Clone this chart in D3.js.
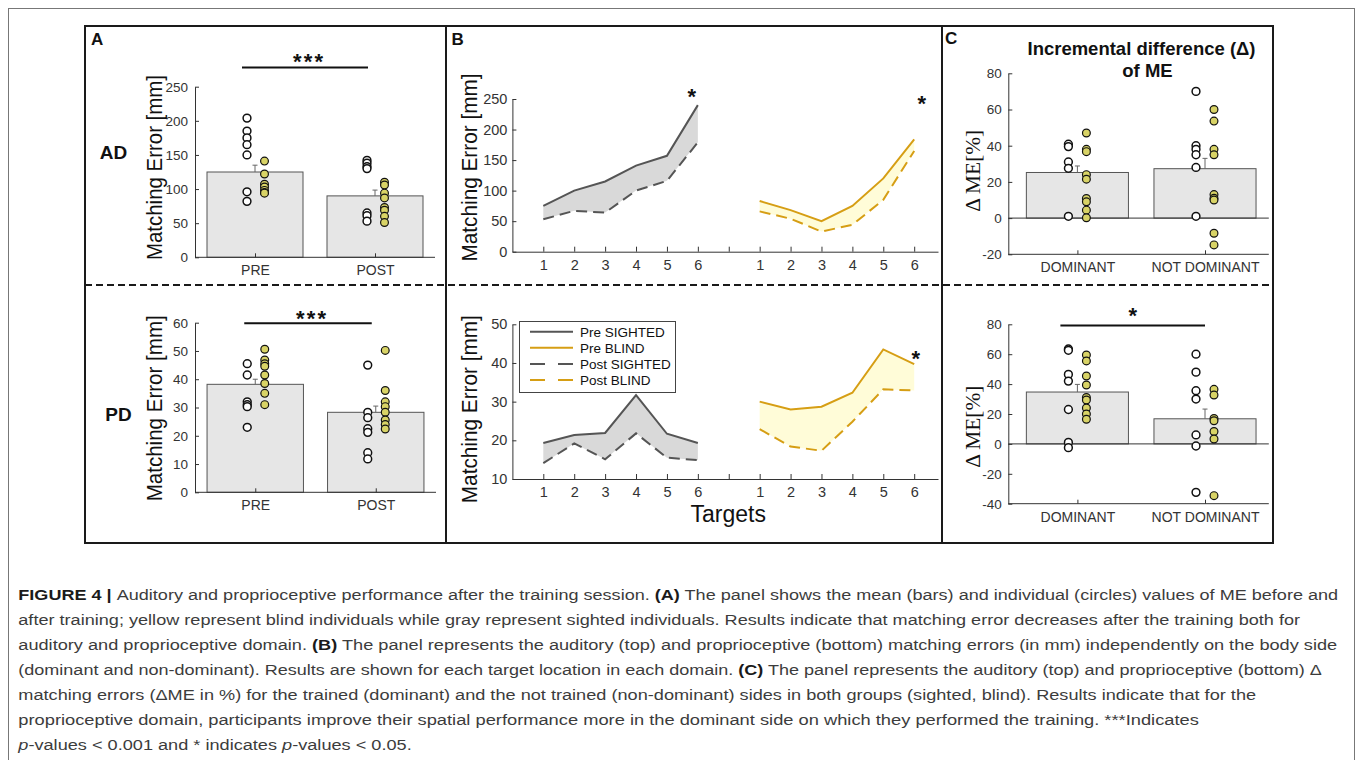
<!DOCTYPE html>
<html lang="en">
<head>
<meta charset="UTF-8">
<title>Figure 4 - Auditory and proprioceptive performance</title>
<style>
  body { margin: 0; background: #fff; }
  svg { display: block; font-family: "Liberation Sans", Arial, sans-serif; }
</style>
</head>
<body>
<svg id="fig"></svg>
<script src="https://d3js.org/d3.v7.min.js"></script>
<script>
// ---------- data ----------
// Panel A: mean bars + individual values (sighted = white, blind = yellow)
const barCats = ['PRE', 'POST'];
const adMeans = [125, 90];
const adErr = [10, 8.5];
const adSighted = [[204, 185, 175, 165, 150, 96, 82], [142, 138, 133, 130, 65, 61, 53]];
const adBlind = [[141, 122, 107, 103, 98, 95, 94], [110, 106, 94, 87, 73, 69, 60, 51]];
const adTicks = [0, 50, 100, 150, 200, 250];

const pdMeans = [38.2, 28.3];
const pdErr = [1.8, 2.2];
const pdSighted = [[45.5, 41.5, 32, 31, 30.3, 23], [45, 28.3, 26.4, 22.5, 21.2, 14, 11.8]];
const pdBlind = [[50.6, 46.8, 45.5, 44.6, 41.5, 38.5, 35, 31], [50.2, 36, 32, 30.3, 28.3, 25.6, 24, 22.4]];
const pdTicks = [0, 10, 20, 30, 40, 50, 60];

// Panel B: matching error per target
const targets = [1, 2, 3, 4, 5, 6];
const targetTickLabels = ['1', '2', '3', '4', '5', '6', '', '1', '2', '3', '4', '5', '6'];
const adPreSighted = [75, 100, 115, 141, 157, 240];
const adPostSighted = [53, 67, 64, 100, 116, 179];
const adPreBlind = [83, 68, 50, 75, 120, 184];
const adPostBlind = [66, 54, 33, 44, 85, 165];
const pdPreSighted = [19.3, 21.4, 21.9, 31.7, 21.7, 19.3];
const pdPostSighted = [14.1, 19.2, 15.1, 21.8, 15.5, 14.9];
const pdPreBlind = [30, 28, 28.7, 32.3, 43.5, 39.7];
const pdPostBlind = [22.9, 18.4, 17.3, 24.8, 33.2, 32.9];
const bTopTicks = [0, 50, 100, 150, 200, 250];
const bBotTicks = [10, 20, 30, 40, 50];
const legendLabels = ['Pre SIGHTED', 'Pre BLIND', 'Post SIGHTED', 'Post BLIND'];

// Panel C: incremental difference of ME (%)
const sideCats = ['DOMINANT', 'NOT DOMINANT'];
const dAdMeans = [25.2, 27.3];
const dAdErr = [3.6, 5.7];
const dAdSighted = [[40.8, 39.5, 31, 27.5, 1], [70, 40, 38, 35, 28, 1]];
const dAdBlind = [[47, 38, 36.7, 24, 21.5, 10.8, 9, 4.4, 0.2], [60, 53.6, 38, 35, 13, 11, 10, -8.4, -14.8]];
const dAdTicks = [-20, 0, 20, 40, 60, 80];
const dPdMeans = [34.7, 16.8];
const dPdErr = [5.1, 6.5];
const dPdSighted = [[63.5, 62.6, 46.5, 42, 23, 1, -2.5], [60, 48, 35.6, 30, 6, -1.4, -32.4]];
const dPdBlind = [[59.5, 55.5, 45.4, 39.4, 31, 29.4, 24, 20, 16.5], [36.5, 32.7, 17, 15.5, 8.3, 3.3, -34.6]];
const dPdTicks = [-40, -20, 0, 20, 40, 60, 80];

// caption, one entry per printed line: [text, style]
const caption = [
  [['FIGURE 4 | ', 'b'], ['Auditory and proprioceptive performance after the training session. '], ['(A)', 'b'], [' The panel shows the mean (bars) and individual (circles) values of ME before and']],
  [['after training; yellow represent blind individuals while gray represent sighted individuals. Results indicate that matching error decreases after the training both for']],
  [['auditory and proprioceptive domain. '], ['(B)', 'b'], [' The panel represents the auditory (top) and proprioceptive (bottom) matching errors (in mm) independently on the body side']],
  [['(dominant and non-dominant). Results are shown for each target location in each domain. '], ['(C)', 'b'], [' The panel represents the auditory (top) and proprioceptive (bottom) \u0394']],
  [['matching errors (\u0394ME in %) for the trained (dominant) and the not trained (non-dominant) sides in both groups (sighted, blind). Results indicate that for the']],
  [['proprioceptive domain, participants improve their spatial performance more in the dominant side on which they performed the training. ***Indicates']],
  [['p', 'i'], ['-values < 0.001 and * indicates '], ['p', 'i'], ['-values < 0.05.']]
];
// printed width of each full line (the last line uses the common squeeze)
const captionWidths = [1320, 1283, 1320, 1305, 1238, 1182, null];

// ---------- styles ----------
const W = 1357, H = 760;
const AX = '#333';
const BAR_FILL = '#e6e6e6', BAR_EDGE = '#555';
const YEL = '#d8d366';
const GRAY_LINE = '#555', GOLD = '#d69e14';
const GRAY_AREA = '#d9d9d9', YEL_AREA = '#fffcd8';

const svg = d3.select('#fig').attr('width', W).attr('height', H);
svg.append('rect').attr('width', W).attr('height', H).attr('fill', '#fff');

// outer page border and figure frame
svg.append('rect').attr('x', 8.5).attr('y', 8.5).attr('width', 1346).attr('height', 800)
  .attr('fill', 'none').attr('stroke', '#777');
const frame = svg.append('g').attr('stroke', '#1a1a1a').attr('stroke-width', 2).attr('fill', 'none');
frame.append('rect').attr('x', 85).attr('y', 26).attr('width', 1188).attr('height', 517);
frame.append('line').attr('x1', 446).attr('x2', 446).attr('y1', 26).attr('y2', 543);
frame.append('line').attr('x1', 942).attr('x2', 942).attr('y1', 26).attr('y2', 543);
frame.append('line').attr('x1', 85).attr('x2', 1273).attr('y1', 285).attr('y2', 285)
  .attr('stroke-dasharray', '7,4');

function txt(x, y, s, size, opts = {}) {
  return svg.append('text').attr('x', x).attr('y', y).text(s)
    .attr('font-size', size)
    .attr('font-weight', opts.bold ? 'bold' : null)
    .attr('text-anchor', opts.anchor || 'start')
    .attr('fill', opts.fill || '#111');
}

function yAxis(y, x0, ticks, pad, fs) {
  const ax = d3.axisLeft(y).tickValues(ticks).tickFormat(d => String(d))
    .tickSizeInner(-4).tickSizeOuter(0).tickPadding(pad);
  const a = svg.append('g').attr('transform', `translate(${x0},0)`).call(ax)
    .attr('font-size', null).attr('font-family', null);
  a.select('.domain').attr('stroke', AX);
  a.selectAll('.tick line').attr('stroke', AX);
  a.selectAll('text').attr('fill', '#333').style('font-size', fs + 'px');
}

function yLabel(s, bx, cy, fs, len, family) {
  svg.append('text').attr('transform', `translate(${bx},${cy}) rotate(-90)`)
    .attr('text-anchor', 'middle').attr('font-size', fs)
    .attr('font-family', family || null)
    .attr('textLength', len).attr('lengthAdjust', 'spacingAndGlyphs')
    .attr('fill', '#111').text(s);
}

function stars(cx, cy, s, len) {
  const fs = 22;
  svg.append('text').attr('x', cx).attr('y', cy + fs * 0.58)
    .attr('text-anchor', 'middle').attr('font-size', fs).attr('font-weight', 'bold')
    .attr('textLength', len).attr('lengthAdjust', 'spacing')
    .attr('fill', '#111').text(s);
}

// ---------- bar panels (A and C) ----------
function barPanel(p) {
  const g = svg.append('g');
  const x = d3.scalePoint().domain(p.cats).range(p.xr).padding(0.5);
  const bw = x.step() * 0.8;
  const y = d3.scaleLinear().domain(p.yd).range(p.yr);
  const base = y(Math.max(p.yd[0], 0));
  const rows = p.cats.map((c, i) => ({ c, m: p.means[i], e: p.errs[i], s: p.sighted[i], b: p.blind[i] }));

  g.selectAll('rect.bar').data(rows).enter().append('rect').attr('class', 'bar')
    .attr('x', d => x(d.c) - bw / 2).attr('width', bw)
    .attr('y', d => Math.min(y(d.m), base)).attr('height', d => Math.abs(y(d.m) - base))
    .attr('fill', BAR_FILL).attr('stroke', BAR_EDGE);

  const eb = g.selectAll('g.err').data(rows).enter().append('g').attr('stroke', '#666');
  eb.append('line').attr('x1', d => x(d.c)).attr('x2', d => x(d.c))
    .attr('y1', d => y(d.m)).attr('y2', d => y(d.m + d.e));
  eb.append('line').attr('x1', d => x(d.c) - 2.5).attr('x2', d => x(d.c) + 2.5)
    .attr('y1', d => y(d.m + d.e)).attr('y2', d => y(d.m + d.e));

  // axes
  yAxis(y, p.axisX, p.ticks, p.tickPad, 13.5);
  const xa = d3.axisBottom(x).tickSizeInner(-4).tickSizeOuter(0).tickPadding(8);
  const a = svg.append('g').attr('transform', `translate(0,${y(p.yd[0])})`).call(xa)
    .attr('font-size', null).attr('font-family', null);
  a.select('.domain').remove();
  a.selectAll('.tick line').attr('stroke', AX);
  a.selectAll('text').attr('fill', '#333').style('font-size', '14px');
  svg.append('line').attr('x1', p.axisX).attr('x2', p.xr[1])
    .attr('y1', y(p.yd[0])).attr('y2', y(p.yd[0])).attr('stroke', AX);
  if (p.yd[0] < 0) {
    svg.append('line').attr('x1', p.axisX).attr('x2', p.xr[1])
      .attr('y1', y(0)).attr('y2', y(0)).attr('stroke', AX);
  }

  // individual values
  rows.forEach(r => {
    svg.append('g').selectAll('circle').data(r.s).enter().append('circle')
      .attr('cx', x(r.c) + p.dxS).attr('cy', d => y(d)).attr('r', 3.9)
      .attr('fill', '#fff').attr('stroke', '#111').attr('stroke-width', 1.5);
    svg.append('g').selectAll('circle').data(r.b).enter().append('circle')
      .attr('cx', x(r.c) + p.dxB).attr('cy', d => y(d)).attr('r', 3.9)
      .attr('fill', YEL).attr('stroke', '#111').attr('stroke-width', 1.2);
  });

  // significance bar
  if (p.sig) {
    const x0 = x(p.cats[0]) + p.sig.dx0, x1 = x(p.cats[1]) + p.sig.dx1;
    svg.append('line').attr('x1', x0).attr('x2', x1)
      .attr('y1', y(p.sig.v)).attr('y2', y(p.sig.v)).attr('stroke', '#111').attr('stroke-width', 2);
    stars((x0 + x1) / 2 + p.sig.dl, y(p.sig.lv), p.sig.label, p.sig.len);
  }
}

// ---------- line panels (B) ----------
function linePanel(p) {
  const x = d3.scaleLinear().domain([0, 13.77]).range([512.4, 938]);
  const y = d3.scaleLinear().domain(p.yd).range(p.yr);
  const groups = [
    { pre: p.preS, post: p.postS, off: 0, color: GRAY_LINE, area: GRAY_AREA },
    { pre: p.preB, post: p.postB, off: 7, color: GOLD, area: YEL_AREA }
  ];
  groups.forEach(gr => {
    const area = d3.area().x((d, i) => x(targets[i] + gr.off))
      .y0((d, i) => y(gr.post[i])).y1(d => y(d));
    svg.append('path').datum(gr.pre).attr('d', area).attr('fill', gr.area);
    const line = d3.line().x((d, i) => x(targets[i] + gr.off)).y(d => y(d));
    svg.append('path').datum(gr.pre).attr('d', line).attr('fill', 'none')
      .attr('stroke', gr.color).attr('stroke-width', 2);
    svg.append('path').datum(gr.post).attr('d', line).attr('fill', 'none')
      .attr('stroke', gr.color).attr('stroke-width', 2).attr('stroke-dasharray', '11,6');
  });

  yAxis(y, x(0), p.ticks, 5, 14.5);
  const xa = d3.axisBottom(x).tickValues(d3.range(1, 14))
    .tickFormat((d, i) => targetTickLabels[i])
    .tickSizeInner(-5).tickSizeOuter(0).tickPadding(8);
  const a = svg.append('g').attr('transform', `translate(0,${y(p.yd[0])})`).call(xa)
    .attr('font-size', null).attr('font-family', null);
  a.select('.domain').attr('stroke', AX);
  a.selectAll('.tick line').attr('stroke', AX);
  a.selectAll('text').attr('fill', '#333').style('font-size', '14.5px');

  p.stars.forEach(s => stars(x(s.t) + s.dx, y(s.v), '*', 9));
  return { x, y };
}

// ---------- panel A ----------
barPanel({ cats: barCats, xr: [195, 435], axisX: 195, yd: [0, 250], yr: [257.3, 86.7], ticks: adTicks,
  tickPad: 7, means: adMeans, errs: adErr, sighted: adSighted, blind: adBlind, dxS: -8, dxB: 9.5,
  sig: { v: 278, dx0: -13, dx1: -7, lv: 295, dl: 3, label: '***', len: 30 } });
barPanel({ cats: barCats, xr: [195, 436], axisX: 195, yd: [0, 60], yr: [492.3, 322.7], ticks: pdTicks,
  tickPad: 7, means: pdMeans, errs: pdErr, sighted: pdSighted, blind: pdBlind, dxS: -8, dxB: 9.5,
  sig: { v: 59.8, dx0: -11, dx1: -4, lv: 63.3, dl: 3, label: '***', len: 30 } });
yLabel('Matching Error [mm]', 161.7, 167.5, 22, 185);
yLabel('Matching Error [mm]', 162, 408.3, 22, 186);
txt(91, 45, 'A', 17, { bold: true });
txt(113.5, 159, 'AD', 19, { bold: true, anchor: 'middle' });
txt(118.5, 421, 'PD', 19, { bold: true, anchor: 'middle' });

// ---------- panel B ----------
linePanel({ yd: [0, 250], yr: [251.7, 99], ticks: bTopTicks,
  preS: adPreSighted, postS: adPostSighted, preB: adPreBlind, postB: adPostBlind,
  stars: [{ t: 6, dx: -6, v: 262 }, { t: 13, dx: 7.5, v: 251 }] });
linePanel({ yd: [10, 50], yr: [479, 324.3], ticks: bBotTicks,
  preS: pdPreSighted, postS: pdPostSighted, preB: pdPreBlind, postB: pdPostBlind,
  stars: [{ t: 13, dx: 1.5, v: 42.6 }] });
yLabel('Matching Error [mm]', 476.7, 167.5, 22, 188);
yLabel('Matching Error [mm]', 476.7, 409.2, 22, 188);
txt(451.5, 44.5, 'B', 17, { bold: true });
txt(728.3, 522, 'Targets', 23, { anchor: 'middle' });

// legend
const lg = svg.append('g');
lg.append('rect').attr('x', 519.5).attr('y', 321.5).attr('width', 156).attr('height', 71)
  .attr('fill', '#fff').attr('stroke', '#444');
const legendStyle = [[GRAY_LINE, null], [GOLD, null], [GRAY_LINE, '15,13'], [GOLD, '15,13']];
legendLabels.forEach((lab, i) => {
  const yy = 331.7 + i * 16.1;
  lg.append('line').attr('x1', 530).attr('x2', 573).attr('y1', yy).attr('y2', yy)
    .attr('stroke', legendStyle[i][0]).attr('stroke-width', 2)
    .attr('stroke-dasharray', legendStyle[i][1]);
  lg.append('text').attr('x', 580).attr('y', yy + 4.8).attr('font-size', 13.5)
    .attr('fill', '#111').text(lab);
});

// ---------- panel C ----------
barPanel({ cats: sideCats, xr: [1013.6, 1268.8], axisX: 1008.3, yd: [-20, 80], yr: [254.3, 73.3],
  ticks: dAdTicks, tickPad: 6.5, means: dAdMeans, errs: dAdErr, sighted: dAdSighted, blind: dAdBlind,
  dxS: -9, dxB: 9 });
barPanel({ cats: sideCats, xr: [1013.6, 1268.8], axisX: 1008.3, yd: [-40, 80], yr: [503.7, 324.3],
  ticks: dPdTicks, tickPad: 6.5, means: dPdMeans, errs: dPdErr, sighted: dPdSighted, blind: dPdBlind,
  dxS: -9, dxB: 9, sig: { v: 79.2, dx0: -17, dx1: 0, lv: 89.7, dl: 0, label: '*', len: 9 } });
yLabel('\u0394 ME[%]', 980, 170.8, 21, 82, '"Liberation Serif", "Times New Roman", serif');
yLabel('\u0394 ME[%]', 980, 426.7, 21, 82, '"Liberation Serif", "Times New Roman", serif');
txt(945, 43.5, 'C', 17, { bold: true });
txt(1141.5, 55, 'Incremental difference (\u0394)', 18.5, { bold: true, anchor: 'middle' })
  .attr('textLength', 228).attr('lengthAdjust', 'spacingAndGlyphs');
txt(1147.5, 77, 'of ME', 18.5, { bold: true, anchor: 'middle' });

// ---------- caption ----------
const capNodes = caption.map(segs => {
  const t = svg.append('text').attr('font-size', 15.5).attr('fill', '#3c3c3c');
  segs.forEach(([s, st]) => {
    t.append('tspan').text(s)
      .attr('font-weight', st === 'b' ? 'bold' : null)
      .attr('font-style', st === 'i' ? 'italic' : null)
      .attr('fill', st === 'b' ? '#1a1a1a' : null);
  });
  return t;
});
const squeeze = captionWidths.map((w, i) => w ? w / capNodes[i].node().getComputedTextLength() : null);
const meanSqueeze = d3.mean(squeeze.filter(v => v));
capNodes.forEach((t, i) => {
  t.attr('transform', `translate(18.3,${600 + i * 25}) scale(${squeeze[i] || meanSqueeze},1)`);
});
</script>
</body>
</html>
